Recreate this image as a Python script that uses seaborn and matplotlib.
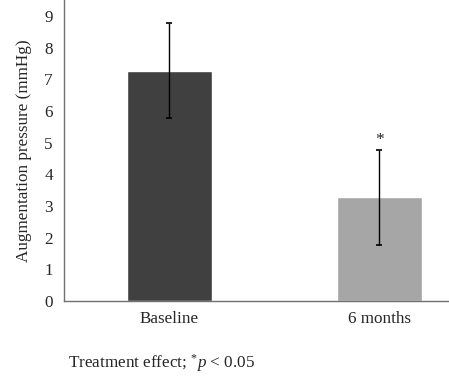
import numpy as np
import pandas as pd
import matplotlib
matplotlib.use("Agg")
import matplotlib.pyplot as plt
import seaborn as sns

# values
groups = ["Baseline", "6 months"]
means = [7.27, 3.27]
errors = [1.5, 1.5]
bar_colors = ["#404040", "#a6a6a6"]
y_ticks = [0, 1, 2, 3, 4, 5, 6, 7, 8, 9]

df = pd.DataFrame({"group": groups, "value": means})

sns.set_style("white")
plt.rcParams["font.family"] = ["Liberation Serif", "DejaVu Serif"]
plt.rcParams["mathtext.fontset"] = "custom"
plt.rcParams["mathtext.rm"] = "Liberation Serif"
plt.rcParams["mathtext.it"] = "Liberation Serif:italic"

fig = plt.figure(figsize=(4.49, 3.79), dpi=100)
ax = fig.add_axes([64 / 449, 1 - 301 / 379, 1 - 64 / 449, 301 / 379])

sns.barplot(data=df, x="group", y="value", hue="group", palette=bar_colors,
            width=0.405, legend=False, ax=ax, saturation=1)
ax.errorbar(np.arange(len(groups)), means, yerr=errors, fmt="none",
            ecolor="black", elinewidth=1.0, capsize=2.5, capthick=1.2)

# significance star above 6 months
ax.text(1, means[1] + errors[1] + 0.05, "*", ha="center", va="bottom", fontsize=12.5)

ax.set_xlim(-0.5, 1.331)
ax.set_ylim(0, 9.5)
ax.set_yticks(y_ticks)
ax.set_xticks([0, 1])
ax.set_xticklabels(groups, fontsize=12.3)
ax.set_xticks([-0.5, 0.5], minor=True)
ax.tick_params(axis="x", which="major", length=0, pad=7)
ax.tick_params(axis="x", which="minor", length=3, direction="out", color="#707070", width=0.8)
ax.tick_params(axis="y", length=4, direction="out", color="#707070", width=0.8, labelsize=12.3, pad=4)
ax.set_xlabel("")
ax.set_ylabel("Augmentation pressure (mmHg)", fontsize=12.3, labelpad=9)

for side in ["top", "right"]:
    ax.spines[side].set_visible(False)
for side in ["left", "bottom"]:
    ax.spines[side].set_color("#707070")
    ax.spines[side].set_linewidth(1.0)

fig.text(68 / 449, 1 - 363 / 379, r"Treatment effect; $^{*}\mathit{p}\ $< 0.05",
         fontsize=12.3, va="center", ha="left")

fig.savefig("out.png", dpi=100)
